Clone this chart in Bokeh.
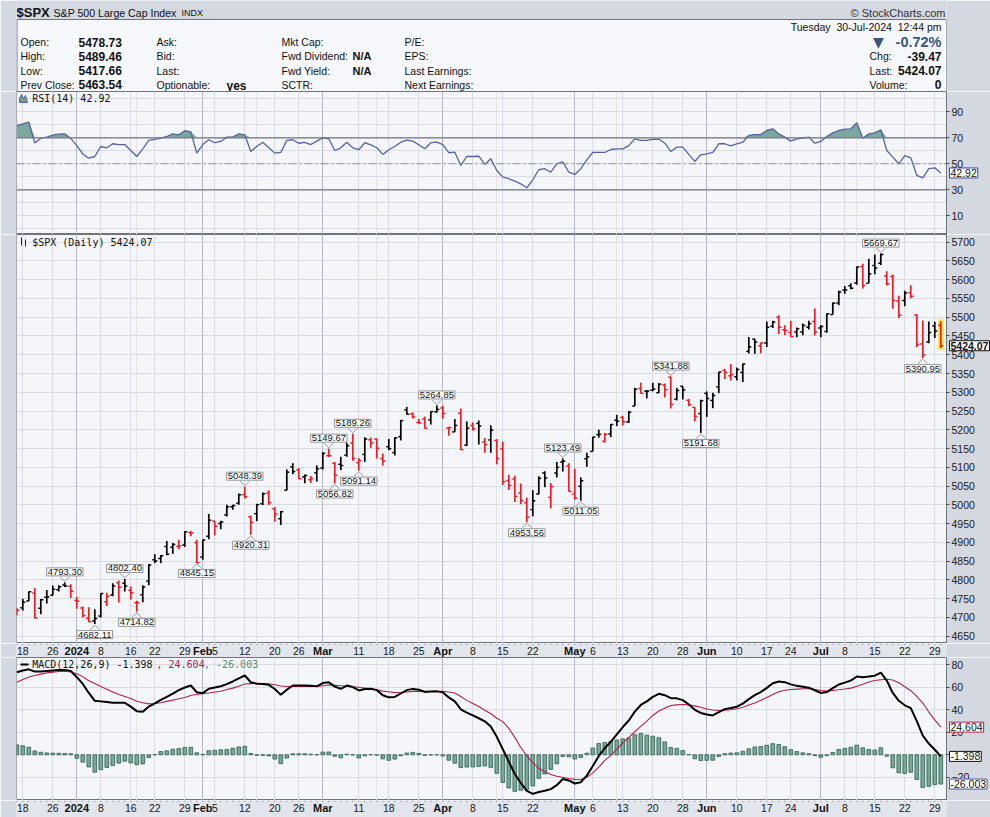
import numpy as np
from bokeh.plotting import figure
from bokeh.layouts import column
from bokeh.models import Range1d, FixedTicker, Span, Label, Grid, ColumnDataSource
from bokeh.core.properties import value
from bokeh.embed import file_html
from bokeh.resources import INLINE

# ---------------- data ----------------
dates = [
 "2023-12-15","2023-12-18","2023-12-19","2023-12-20","2023-12-21","2023-12-22","2023-12-26","2023-12-27","2023-12-28","2023-12-29",
 "2024-01-02","2024-01-03","2024-01-04","2024-01-05","2024-01-08","2024-01-09","2024-01-10","2024-01-11","2024-01-12","2024-01-16",
 "2024-01-17","2024-01-18","2024-01-19","2024-01-22","2024-01-23","2024-01-24","2024-01-25","2024-01-26","2024-01-29","2024-01-30","2024-01-31",
 "2024-02-01","2024-02-02","2024-02-05","2024-02-06","2024-02-07","2024-02-08","2024-02-09","2024-02-12","2024-02-13","2024-02-14",
 "2024-02-15","2024-02-16","2024-02-20","2024-02-21","2024-02-22","2024-02-23","2024-02-26","2024-02-27","2024-02-28","2024-02-29",
 "2024-03-01","2024-03-04","2024-03-05","2024-03-06","2024-03-07","2024-03-08","2024-03-11","2024-03-12","2024-03-13","2024-03-14",
 "2024-03-15","2024-03-18","2024-03-19","2024-03-20","2024-03-21","2024-03-22","2024-03-25","2024-03-26","2024-03-27","2024-03-28",
 "2024-04-01","2024-04-02","2024-04-03","2024-04-04","2024-04-05","2024-04-08","2024-04-09","2024-04-10","2024-04-11","2024-04-12",
 "2024-04-15","2024-04-16","2024-04-17","2024-04-18","2024-04-19","2024-04-22","2024-04-23","2024-04-24","2024-04-25","2024-04-26","2024-04-29","2024-04-30",
 "2024-05-01","2024-05-02","2024-05-03","2024-05-06","2024-05-07","2024-05-08","2024-05-09","2024-05-10","2024-05-13","2024-05-14",
 "2024-05-15","2024-05-16","2024-05-17","2024-05-20","2024-05-21","2024-05-22","2024-05-23","2024-05-24","2024-05-28","2024-05-29","2024-05-30","2024-05-31",
 "2024-06-03","2024-06-04","2024-06-05","2024-06-06","2024-06-07","2024-06-10","2024-06-11","2024-06-12","2024-06-13","2024-06-14",
 "2024-06-17","2024-06-18","2024-06-20","2024-06-21","2024-06-24","2024-06-25","2024-06-26","2024-06-27","2024-06-28",
 "2024-07-01","2024-07-02","2024-07-03","2024-07-05","2024-07-08","2024-07-09","2024-07-10","2024-07-11","2024-07-12","2024-07-15",
 "2024-07-16","2024-07-17","2024-07-18","2024-07-19","2024-07-22","2024-07-23","2024-07-24","2024-07-25","2024-07-26","2024-07-29","2024-07-30",
]

prev_close_before = 4719.55

opens = [
 4714.2, 4725.6, 4743.7, 4764.7, 4724.3, 4753.9, 4758.9, 4773.5, 4786.4, 4782.9,
 4745.2, 4725.1, 4697.4, 4690.6, 4703.7, 4741.9, 4759.9, 4792.1, 4791.2, 4772.4, 4739.1, 4760.1, 4796.3, 4853.4, 4856.8, 4888.6, 4886.7, 4888.9, 4893.0, 4925.9, 4899.2,
 4861.1, 4916.1, 4957.2, 4950.2, 4973.1, 4995.2, 5004.2, 5026.8, 4967.9, 4976.4, 5003.1, 5031.1, 4989.3, 4963.0, 5038.8, 5100.9, 5093.0, 5074.6, 5067.2, 5085.4,
 5098.5, 5131.0, 5110.5, 5108.0, 5132.4, 5164.5, 5112.0, 5134.3, 5173.5, 5175.1, 5123.3, 5154.8, 5139.1, 5181.7, 5253.4, 5242.5, 5219.5, 5228.9, 5226.3, 5248.0,
 5258.0, 5204.3, 5194.4, 5244.1, 5159.0, 5211.4, 5217.0, 5167.9, 5173.0, 5171.5, 5149.7, 5064.6, 5069.0, 5031.5, 5005.4, 4987.3, 5028.9, 5084.9, 5019.9, 5084.7, 5114.1, 5103.8,
 5029.0, 5049.3, 5122.8, 5142.4, 5187.2, 5169.0, 5189.0, 5225.5, 5233.1, 5221.1, 5263.3, 5310.1, 5303.1, 5305.4, 5298.7, 5319.3, 5340.3, 5281.5, 5315.9, 5278.7, 5259.8, 5243.2,
 5297.2, 5278.2, 5314.5, 5357.8, 5343.8, 5341.2, 5353.0, 5409.1, 5441.9, 5424.1, 5431.1, 5476.2, 5500.0, 5466.8, 5459.6, 5460.7, 5460.7, 5473.6, 5488.5,
 5471.1, 5461.8, 5507.4, 5537.9, 5572.8, 5584.2, 5591.3, 5635.2, 5590.8, 5638.2, 5644.1, 5610.1, 5608.6, 5543.4, 5544.5, 5565.3, 5505.8, 5428.7, 5433.7, 5476.6, 5478.73,
]
highs = [
 4725.6, 4749.5, 4768.7, 4778.0, 4748.7, 4772.9, 4784.7, 4785.4, 4793.3, 4788.4,
 4754.3, 4729.3, 4726.8, 4721.5, 4764.5, 4765.5, 4790.8, 4798.5, 4802.4, 4782.3, 4744.2, 4785.8, 4842.1, 4868.4, 4866.5, 4903.7, 4898.2, 4906.7, 4929.3, 4931.1, 4906.8,
 4907.0, 4975.3, 4957.2, 4957.8, 4999.9, 5000.4, 5030.1, 5048.4, 4971.3, 5002.5, 5032.7, 5038.7, 4993.7, 4983.2, 5094.4, 5111.1, 5097.7, 5080.7, 5077.4, 5105.0,
 5140.3, 5149.7, 5114.5, 5128.0, 5165.6, 5189.3, 5124.7, 5179.9, 5179.1, 5176.9, 5136.9, 5175.6, 5180.3, 5226.2, 5261.1, 5246.1, 5229.1, 5235.2, 5249.3, 5264.9,
 5264.0, 5208.3, 5228.8, 5256.6, 5222.2, 5219.6, 5224.8, 5178.4, 5211.8, 5175.0, 5168.4, 5079.8, 5078.0, 5056.7, 5019.0, 5038.8, 5076.1, 5089.5, 5057.8, 5114.6, 5123.5, 5110.8,
 5096.1, 5073.2, 5139.1, 5181.0, 5200.2, 5192.0, 5215.3, 5239.7, 5237.3, 5250.4, 5311.8, 5325.5, 5305.5, 5325.3, 5324.3, 5323.2, 5341.9, 5311.7, 5315.9, 5282.3, 5260.2, 5280.3,
 5302.1, 5298.8, 5354.2, 5362.4, 5375.1, 5365.8, 5376.0, 5447.3, 5441.9, 5432.4, 5488.5, 5490.4, 5505.5, 5478.3, 5490.7, 5472.9, 5483.1, 5490.8, 5523.6,
 5479.6, 5509.7, 5539.3, 5570.3, 5583.1, 5590.8, 5635.4, 5642.5, 5655.6, 5666.9, 5669.67, 5622.5, 5614.1, 5557.5, 5570.4, 5585.3, 5508.0, 5491.6, 5488.3, 5487.7, 5489.46,
]
lows = [
 4704.9, 4718.1, 4743.7, 4697.8, 4708.4, 4736.8, 4758.5, 4768.9, 4781.0, 4752.0,
 4722.7, 4699.7, 4687.5, 4682.11, 4699.8, 4730.4, 4756.2, 4739.6, 4769.0, 4747.1, 4714.82, 4740.6, 4785.9, 4844.1, 4844.4, 4865.9, 4869.3, 4881.5, 4887.4, 4916.3, 4845.15,
 4853.5, 4908.0, 4918.1, 4934.9, 4969.1, 4987.1, 5000.3, 5016.8, 4920.31, 4956.5, 4999.4, 4999.5, 4955.0, 4946.0, 5038.8, 5081.5, 5068.9, 5057.3, 5058.4, 5061.9,
 5094.2, 5127.2, 5056.82, 5092.2, 5128.2, 5117.5, 5091.14, 5114.5, 5151.9, 5123.3, 5104.4, 5145.5, 5131.6, 5171.6, 5240.7, 5229.9, 5216.1, 5203.4, 5213.9, 5245.8,
 5229.2, 5184.1, 5194.4, 5146.1, 5157.2, 5197.4, 5160.8, 5138.7, 5138.8, 5107.9, 5052.5, 5039.8, 5007.3, 5001.9, 4953.56, 4969.4, 5028.0, 5047.0, 4990.6, 5073.1, 5088.7, 5035.3,
 5013.5, 5011.05, 5101.2, 5142.4, 5179.0, 5165.9, 5180.4, 5209.7, 5211.2, 5218.0, 5263.3, 5296.2, 5283.6, 5302.4, 5297.9, 5286.0, 5256.9, 5278.4, 5280.9, 5262.7, 5222.1, 5191.68,
 5234.3, 5257.6, 5297.6, 5335.4, 5331.3, 5331.5, 5327.3, 5403.4, 5402.5, 5403.8, 5420.4, 5471.3, 5455.6, 5452.0, 5447.6, 5446.6, 5451.9, 5467.5, 5451.1,
 5446.5, 5458.4, 5507.4, 5531.6, 5562.5, 5574.6, 5586.4, 5576.5, 5590.4, 5614.8, 5639.0, 5584.8, 5522.8, 5497.0, 5529.0, 5550.9, 5420.0, 5390.95, 5430.7, 5444.4, 5417.66,
]
closes = [
 4719.19, 4740.56, 4768.37, 4698.35, 4746.75, 4754.63, 4774.75, 4781.58, 4783.35, 4769.83,
 4742.83, 4704.81, 4688.68, 4697.24, 4763.54, 4756.50, 4783.45, 4780.24, 4783.83, 4765.98, 4739.21, 4780.94, 4839.81, 4850.43, 4864.60, 4868.55, 4894.16, 4890.97, 4927.93, 4924.97, 4845.65,
 4906.19, 4958.61, 4942.81, 4954.23, 4995.06, 4997.91, 5026.61, 5021.84, 4953.17, 5000.62, 5029.73, 5005.57, 4975.51, 4981.80, 5087.03, 5088.80, 5069.53, 5078.18, 5069.76, 5096.27,
 5137.08, 5130.95, 5078.65, 5104.76, 5157.36, 5123.69, 5117.94, 5175.27, 5165.31, 5150.48, 5117.09, 5149.42, 5178.51, 5224.62, 5241.53, 5234.18, 5218.19, 5203.58, 5248.49, 5254.35,
 5243.77, 5205.81, 5211.49, 5147.21, 5204.34, 5202.39, 5209.91, 5160.64, 5199.06, 5123.41, 5061.82, 5051.41, 5022.21, 5011.12, 4967.23, 5010.60, 5070.55, 5071.63, 5048.42, 5099.96, 5116.17, 5035.69,
 5018.39, 5064.20, 5127.79, 5180.74, 5187.70, 5187.67, 5214.08, 5222.68, 5221.42, 5246.68, 5308.15, 5297.10, 5303.27, 5308.13, 5321.41, 5307.01, 5267.84, 5304.72, 5306.04, 5266.95, 5235.48, 5277.51,
 5283.40, 5291.34, 5354.03, 5352.96, 5346.99, 5360.79, 5375.32, 5421.03, 5433.74, 5431.60, 5473.23, 5487.03, 5473.17, 5464.62, 5447.87, 5469.30, 5477.90, 5482.87, 5460.48,
 5475.09, 5509.01, 5537.02, 5567.19, 5572.85, 5576.98, 5633.91, 5584.54, 5615.35, 5631.22, 5667.20, 5588.27, 5544.59, 5505.00, 5564.41, 5555.74, 5427.13, 5399.22, 5459.10, 5463.54, 5424.07,
]

rsi = [
 79.5, 80.7, 82.0, 66.0, 69.7, 70.5, 72.0, 72.8, 73.0, 69.5,
 64.0, 57.5, 54.3, 55.6, 63.3, 62.3, 65.4, 64.8, 64.8, 60.2,
 55.6, 61.5, 68.0, 68.7, 69.7, 71.0, 73.0, 72.3, 75.4, 74.6,
 58.2, 64.8, 68.5, 66.2, 67.2, 70.5, 70.5, 73.0, 72.3, 59.5,
 63.3, 66.6, 62.3, 58.2, 58.7, 68.0, 68.5, 65.8, 66.4, 64.8,
 67.4, 70.0, 69.2, 60.2, 62.3, 66.6, 62.3, 60.8, 66.2, 64.6,
 62.3, 57.2, 60.8, 63.3, 66.6, 68.2, 67.4, 64.6, 61.5, 66.2,
 66.6, 64.8, 58.5, 58.9, 48.7, 55.6, 55.6, 55.8, 49.5, 53.8,
 44.8, 39.7, 38.5, 36.6, 34.6, 31.5, 37.7, 45.4, 46.2, 43.5,
 50.0, 51.5, 43.5, 41.8, 46.2, 53.0, 58.7, 58.7, 58.7, 61.0,
 61.5, 61.5, 64.0, 69.2, 68.0, 68.0, 68.7, 69.0, 65.8, 59.5,
 62.8, 62.8, 57.2, 51.8, 56.9, 57.7, 58.7, 65.4, 65.4, 63.8,
 65.4, 66.6, 71.8, 72.5, 72.5, 75.6, 76.9, 73.0, 70.5, 67.4,
 69.2, 69.7, 70.5, 65.8, 67.2, 71.0, 73.8, 75.6, 76.6, 76.9,
 81.5, 69.7, 73.0, 73.8, 76.2, 60.2, 55.1, 50.0, 56.2, 54.6,
 41.0, 39.2, 46.2, 46.9, 42.92,
]
macd = [
 73.4, 75.0, 76.0, 74.0, 74.0, 74.5, 75.0, 75.5, 75.5, 74.5,
 69.0, 63.0, 55.0, 48.0, 47.5, 47.0, 46.3, 46.2, 46.2, 42.8,
 38.8, 38.2, 42.9, 45.7, 48.9, 51.5, 54.3, 57.5, 59.8, 61.6,
 55.6, 54.8, 58.7, 59.8, 61.0, 62.8, 65.2, 68.0, 70.5, 64.5,
 63.2, 63.0, 62.2, 58.5, 53.3, 57.8, 61.6, 61.6, 61.6, 61.3,
 60.9, 63.8, 64.5, 60.6, 58.7, 61.6, 60.2, 57.2, 58.5, 58.7,
 57.5, 53.0, 51.1, 51.5, 54.5, 57.5, 58.6, 57.8, 55.9, 56.2,
 56.4, 55.5, 51.0, 47.5, 40.5, 37.5, 35.0, 32.5, 29.8, 25.2,
 16.0, 5.0, -6.0, -17.0, -25.0, -32.0, -34.7, -33.0, -32.0, -30.5,
 -27.0, -21.5, -22.8, -25.5, -24.3, -18.5, -10.0, -1.0, 6.0, 11.5,
 18.2, 24.7, 30.5, 38.4, 44.3, 47.5, 51.5, 54.2, 53.0, 50.3,
 50.2, 48.6, 44.7, 40.0, 37.2, 35.9, 35.0, 37.9, 40.6, 41.6,
 42.8, 45.5, 49.5, 53.0, 55.8, 59.5, 63.6, 65.2, 64.6, 62.6,
 61.3, 60.5, 59.7, 57.4, 55.0, 55.8, 59.3, 62.5, 64.2, 66.0,
 69.6, 69.0, 69.6, 70.3, 73.0, 66.0, 55.0, 48.0, 44.0, 41.5,
 30.0, 17.0, 10.0, 4.5, -1.398,
]
signal = [
 64.5, 67.0, 69.2, 70.5, 71.7, 72.8, 73.5, 74.1, 74.3, 73.6,
 72.1, 69.5, 65.8, 63.4, 60.8, 58.3, 55.9, 53.6, 51.9, 50.0,
 47.6, 46.3, 45.3, 45.6, 46.3, 47.5, 48.6, 49.8, 51.0, 52.8,
 53.8, 54.4, 55.0, 55.8, 56.5, 58.0, 59.3, 61.0, 62.9, 63.3,
 63.6, 63.4, 63.2, 62.3, 61.2, 60.7, 60.7, 60.7, 60.7, 60.7,
 60.7, 61.4, 62.0, 61.8, 61.4, 61.0, 60.4, 60.0, 59.4, 58.6,
 57.8, 56.6, 56.0, 55.3, 55.4, 55.9, 56.4, 56.5, 56.4, 56.3,
 56.4, 56.5, 55.8, 55.0, 51.8, 48.4, 45.7, 42.9, 39.7, 36.5,
 32.5, 29.5, 23.5, 15.5, 6.5, -1.0, -7.0, -12.0, -15.0, -17.5,
 -19.0, -20.0, -21.0, -21.8, -22.0, -20.0, -16.0, -11.0, -5.0, -0.5,
 5.0, 10.5, 15.5, 20.5, 25.3, 30.0, 35.0, 39.0, 41.5, 43.8,
 44.4, 44.7, 44.5, 43.5, 42.3, 40.8, 39.8, 39.4, 39.6, 40.0,
 41.0, 42.3, 44.2, 46.0, 48.4, 51.0, 53.7, 56.0, 57.4, 58.0,
 58.4, 58.7, 58.7, 58.0, 57.2, 56.6, 57.2, 57.8, 58.5, 59.3,
 61.0, 62.8, 64.8, 66.0, 66.7, 67.2, 66.5, 64.0, 60.5, 57.0,
 52.0, 46.0, 38.0, 31.0, 24.604,
]
hist = [
 8.9, 8.0, 6.8, 3.5, 2.3, 1.7, 1.5, 1.4, 1.2, 0.9,
 -3.1, -6.5, -10.8, -15.4, -13.3, -11.3, -9.6, -7.4, -5.7, -7.2,
 -8.8, -8.1, -2.4, 0.1, 2.9, 3.6, 5.0, 5.6, 6.5, 6.7,
 1.8, 0.4, 3.7, 4.0, 4.5, 4.8, 5.9, 7.0, 7.6, 1.2,
 -0.4, -0.4, -1.0, -3.8, -7.9, -2.9, 0.9, 0.9, 0.9, 0.6,
 0.2, 2.4, 2.5, -1.2, -2.7, 0.6, -0.2, -2.8, -0.9, 0.1,
 -0.3, -3.6, -4.9, -3.8, -0.9, 1.6, 2.2, 1.3, -0.5, -0.1,
 0.0, -1.0, -4.8, -7.5, -11.3, -10.9, -10.7, -10.4, -9.9, -11.3,
 -16.5, -24.5, -29.5, -32.5, -31.5, -31.0, -27.7, -21.0, -17.0, -13.0,
 -8.0, -1.5, -1.8, -3.7, -2.3, 1.5, 6.0, 10.0, 11.0, 12.0,
 13.2, 14.2, 15.0, 17.9, 19.0, 17.5, 16.5, 15.2, 11.5, 6.5,
 5.8, 3.9, 0.2, -3.5, -5.1, -4.9, -4.8, -1.5, 1.0, 1.6,
 1.8, 3.2, 5.3, 7.0, 7.4, 8.5, 9.9, 9.2, 7.2, 4.6,
 2.9, 1.8, 1.0, -0.6, -2.2, -0.8, 2.1, 4.7, 5.7, 6.7,
 8.6, 6.2, 4.8, 4.3, 6.3, -1.2, -11.5, -16.0, -16.5, -15.5,
 -22.0, -29.0, -28.0, -26.5, -26.003,
]

last_rsi, last_macd, last_signal, last_hist = 42.92, -1.398, 24.604, -26.003

tick_dates = ["2023-12-18","2023-12-26","2024-01-02","2024-01-08","2024-01-16","2024-01-22","2024-01-29",
 "2024-02-01","2024-02-05","2024-02-12","2024-02-20","2024-02-26","2024-03-01","2024-03-11","2024-03-18",
 "2024-03-25","2024-04-01","2024-04-08","2024-04-15","2024-04-22","2024-05-01","2024-05-06","2024-05-13",
 "2024-05-20","2024-05-28","2024-06-03","2024-06-10","2024-06-17","2024-06-24","2024-07-01","2024-07-08",
 "2024-07-15","2024-07-22","2024-07-29"]
tick_labels = ["18","26","2024","8","16","22","29","Feb","5","12","20","26","Mar","11","18","25","Apr","8",
 "15","22","May","6","13","20","28","Jun","10","17","24","Jul","8","15","22","29"]
month_ticks = ["2024","Feb","Mar","Apr","May","Jun","Jul"]

ann_dates = ["2023-12-28","2024-01-05","2024-01-12","2024-01-17","2024-01-31","2024-02-12","2024-02-13",
 "2024-03-04","2024-03-05","2024-03-08","2024-03-11","2024-03-28","2024-04-19","2024-04-29","2024-05-02",
 "2024-05-23","2024-05-31","2024-07-16","2024-07-25"]
ann_values = [4793.30, 4682.11, 4802.40, 4714.82, 4845.15, 5048.39, 4920.31, 5149.67, 5056.82, 5189.26,
 5091.14, 5264.85, 4953.56, 5123.49, 5011.05, 5341.88, 5191.68, 5669.67, 5390.95]
ann_side = ["high","low","high","low","low","high","low","high","low","high","low","high","low","high",
 "low","high","low","high","low"]

price_ticks = list(range(4650, 5701, 50))
rsi_label_ticks = [10, 30, 50, 70, 90]
rsi_grid_ticks = list(range(0, 101, 10))
macd_ticks = [80, 60, 40, 20, 0, -20]

# ---------------- style ----------------
LB, RB = 16, 44
FW = 930
PAGE = "#d3d8e1"
FRAME = "#f5f6f9"
GRID_C = "#d9dce3"
GRID_M = "#b5b9c3"
OUTLINE = "#6e7380"
UP = "#000000"
DOWN = "#ec1c24"
FONT = "Liberation Sans"
MONO = "DejaVu Sans Mono"

n = len(dates)
idx = np.arange(n)
xr = Range1d(-0.05, n - 0.05)
tick_pos = [dates.index(d) for d in tick_dates]
month_pos = [p for p, t in zip(tick_pos, tick_labels) if t in month_ticks]
week_pos = [p for p, t in zip(tick_pos, tick_labels) if t not in month_ticks]


def px2x(px):
    return xr.start + (px - LB) / 6.0


def panel(h, y0, y1):
    p = figure(frame_width=FW, frame_height=h, x_range=xr, y_range=Range1d(y0, y1), output_backend="svg",
               toolbar_location=None, x_axis_location=None, y_axis_location="right",
               min_border_left=LB, min_border_right=RB, min_border_top=0, min_border_bottom=0)
    p.background_fill_color = FRAME
    p.border_fill_color = PAGE
    p.outline_line_color = OUTLINE
    p.add_layout(Grid(dimension=0, ticker=FixedTicker(ticks=week_pos), grid_line_color=GRID_C))
    p.add_layout(Grid(dimension=0, ticker=FixedTicker(ticks=month_pos), grid_line_color=GRID_M))
    ax = p.yaxis[0]
    ax.axis_line_color = OUTLINE
    ax.major_tick_out = 3
    ax.major_tick_in = 0
    ax.minor_tick_out = 0
    ax.minor_tick_in = 0
    ax.major_tick_line_color = "#444444"
    ax.major_label_text_font = FONT
    ax.major_label_text_font_size = "10.5px"
    ax.major_label_text_color = "#1a1a1a"
    ax.major_label_standoff = 2
    p.ygrid.grid_line_color = GRID_C
    return p


def right_box(p, y, text, border, bold=False):
    p.add_layout(Label(x=xr.end, y=y, x_offset=3, text=text, text_align="left", text_baseline="middle",
                       text_font=FONT, text_font_size="10.5px", text_color="#111111",
                       text_font_style="bold" if bold else "normal",
                       background_fill_color="white", border_line_color=border, padding=1), "right")


def legend(p, x_px, y, text, color="#111111"):
    p.add_layout(Label(x=px2x(x_px), y=y, text=text, text_align="left", text_baseline="middle",
                       text_font=MONO, text_font_size="10px", text_color=color))


# ---------------- header ----------------
hdr = figure(frame_width=FW, frame_height=91, x_range=Range1d(LB, LB + FW), y_range=Range1d(91, 0),
             output_backend="svg", toolbar_location=None, x_axis_location=None, y_axis_location=None,
             min_border_left=LB, min_border_right=RB, min_border_top=0, min_border_bottom=0)
hdr.background_fill_color = PAGE
hdr.border_fill_color = PAGE
hdr.outline_line_color = None
hdr.xgrid.visible = False
hdr.ygrid.visible = False
hdr.quad(left=16.5, right=946, top=19, bottom=92, fill_color="#f7f8fb", line_color=OUTLINE)


def hl(x, y, text, size="10.5px", bold=False, color="#111111", align="left", font=FONT):
    hdr.add_layout(Label(x=x, y=y, text=text, text_align=align, text_baseline="middle",
                         text_font=font, text_font_size=size, text_color=color,
                         text_font_style="bold" if bold else "normal"))


hl(16, 12, "$SPX", size="13px", bold=True)
hl(53, 12, "S&P 500 Large Cap Index", size="10.6px")
hl(181, 12.5, "INDX", size="9px")
hl(945, 12, "\u00a9 StockCharts.com", size="11px", color="#333333", align="right")

rows = [41.5, 55.5, 70, 84]
for y, lab in zip(rows, ["Open:", "High:", "Low:", "Prev Close:"]):
    hl(20, y, lab)
for y, v in zip(rows, ["5478.73", "5489.46", "5417.66", "5463.54"]):
    hl(78, y, v, size="12px", bold=True)
for y, lab in zip(rows, ["Ask:", "Bid:", "Last:", "Optionable:"]):
    hl(156, y, lab)
hl(226, rows[3] + 1, "yes", size="12px", bold=True)
for y, lab in zip(rows, ["Mkt Cap:", "Fwd Dividend:", "Fwd Yield:", "SCTR:"]):
    hl(281, y, lab)
hl(352, rows[1], "N/A", size="11px", bold=True)
hl(352, rows[2], "N/A", size="11px", bold=True)
for y, lab in zip(rows, ["P/E:", "EPS:", "Last Earnings:", "Next Earnings:"]):
    hl(404, y, lab)
hl(941, 26, "Tuesday\u00a0\u00a030-Jul-2024\u00a0\u00a012:44 pm", align="right")
hl(878, 41.5, "\u25bc", size="14px", color="#3a5580", align="center", font="DejaVu Sans")
hl(941, 41.5, "-0.72%", size="14.5px", bold=True, color="#3a5580", align="right")
hl(869, 55.5, "Chg:")
hl(941, 55.5, "-39.47", size="12px", bold=True, align="right")
hl(869, 70, "Last:")
hl(941, 70, "5424.07", size="12px", bold=True, align="right")
hl(869, 84, "Volume:")
hl(941, 84, "0", size="12px", bold=True, align="right")

# ---------------- RSI ----------------
RSI_LO, RSI_HI = -4.4, 105.6
RPX = (RSI_HI - RSI_LO) / 143.0
pr = panel(143, RSI_LO, RSI_HI)
pr.yaxis.ticker = FixedTicker(ticks=rsi_label_ticks)
pr.ygrid.ticker = FixedTicker(ticks=rsi_grid_ticks)
pr.varea(x=idx, y1=70, y2=np.maximum(np.array(rsi), 70), fill_color="#6e9f91", fill_alpha=0.9)
for lvl in (70, 30):
    pr.add_layout(Span(location=lvl, dimension="width", line_color="#70747e", line_width=1.2))
pr.add_layout(Span(location=50, dimension="width", line_color="#8b8f99", line_width=1, line_dash="8 3 2 3"))
pr.line(idx, rsi, line_color="#5662a3", line_width=1.3)
ix = [px2x(v) for v in (19, 19, 21, 23, 25, 27)]
iy = [RSI_HI - v * RPX for v in (11, 7, 3, 7, 4, 11)]
pr.patch(ix, iy, fill_color="#6e9f91", line_color="#5662a3", line_width=1)
legend(pr, 31.7, RSI_HI - 7.3 * RPX, "RSI(14) 42.92")
right_box(pr, last_rsi, "42.92", "#3c4a8e")

# ---------------- price ----------------
P_LO, P_HI = 4630.4, 5720.5
PPX = (P_HI - P_LO) / 409.0
pp = panel(409, P_LO, P_HI)
pp.yaxis.ticker = FixedTicker(ticks=price_ticks)
prev = [prev_close_before] + closes[:-1]
cols = [UP if c >= pc else DOWN for c, pc in zip(closes, prev)]
src = ColumnDataSource(dict(x=idx, xl=idx - 0.42, xr=idx + 0.42, o=opens, h=highs, l=lows, c=closes, col=cols))
pp.quad(left=[n - 1 - 0.5], right=[n - 1 + 0.5], bottom=[lows[-1] - 2 * PPX], top=[highs[-1] + 2 * PPX],
        fill_color="#fbe94c", line_color=None)
pp.segment(x0="x", y0="l", x1="x", y1="h", line_color="col", line_width=1.7, source=src)
pp.segment(x0="xl", y0="o", x1="x", y1="o", line_color="col", line_width=1.5, source=src)
pp.segment(x0="x", y0="c", x1="xr", y1="c", line_color="col", line_width=1.5, source=src)

chev_x, chev_y = [], []
for d, v, s in zip(ann_dates, ann_values, ann_side):
    i = dates.index(d)
    sg = 1 if s == "high" else -1
    chev_x.append([i - 0.8, i, i + 0.8])
    chev_y.append([v + sg * 5.5 * PPX, v + sg * 1.0 * PPX, v + sg * 5.5 * PPX])
    pp.add_layout(Label(x=i, y=v + sg * 6.5 * PPX, text=f"{v:.2f}", text_align="center",
                        text_baseline="bottom" if s == "high" else "top",
                        text_font=FONT, text_font_size="9.5px", text_color="#111111",
                        background_fill_color="#ffffff", border_line_color="#8e939c", padding=1))
pp.multi_line(chev_x, chev_y, line_color="#9a9ea6", line_width=1)
for xp, a, b in ((21, 3, 11), (25, 5, 12)):
    pp.segment(x0=[px2x(xp)], y0=[P_HI - a * PPX], x1=[px2x(xp)], y1=[P_HI - b * PPX], line_color="#222222", line_width=1)
legend(pp, 31.7, P_HI - 7.7 * PPX, "$SPX (Daily) 5424.07")
right_box(pp, closes[-1], "5424.07", "#111111", bold=True)


# ---------------- x-axis bands ----------------
def band(h, ymid):
    b = figure(frame_width=FW, frame_height=h, x_range=xr, y_range=Range1d(h, 0), output_backend="svg",
               toolbar_location=None, x_axis_location=None, y_axis_location=None,
               min_border_left=LB, min_border_right=RB, min_border_top=0, min_border_bottom=0)
    b.background_fill_color = "#e2e5eb"
    b.border_fill_color = PAGE
    b.outline_line_color = None
    b.xgrid.visible = False
    b.ygrid.visible = False
    b.segment(x0=idx, y0=np.zeros(n), x1=idx, y1=np.full(n, 1.5), line_color="#8d929c", line_width=1)
    wl = [t for t in tick_labels if t not in month_ticks]
    ml = [t for t in tick_labels if t in month_ticks]
    b.text(x=week_pos, y=[ymid] * len(week_pos), text=wl, text_align="center", text_baseline="middle",
           text_font=value(FONT), text_font_size="10.5px", text_color="#1a1a1a")
    b.text(x=month_pos, y=[ymid] * len(month_pos), text=ml, text_align="center", text_baseline="middle",
           text_font=value(FONT), text_font_size="11px", text_font_style="bold", text_color="#111111")
    return b


b1 = band(14, 7.5)

# ---------------- MACD ----------------
M_LO, M_HI = -40.6, 86.5
MPX = (M_HI - M_LO) / 143.0
pm = panel(143, M_LO, M_HI)
pm.yaxis.ticker = FixedTicker(ticks=macd_ticks)
pm.vbar(x=idx, top=hist, bottom=0, width=0.62, fill_color="#77a797", line_color="#2f5d50", line_width=0.8)
pm.line(idx, signal, line_color="#b2204c", line_width=1.1)
pm.line(idx, macd, line_color="#000000", line_width=2)
pm.segment(x0=[px2x(20)], y0=[M_HI - 7 * MPX], x1=[px2x(28)], y1=[M_HI - 7 * MPX], line_color="#000000", line_width=2)
legend(pm, 31.7, M_HI - 7 * MPX, "MACD(12,26,9) -1.398")
legend(pm, 156, M_HI - 7 * MPX, ", 24.604", color="#b2204c")
legend(pm, 203.5, M_HI - 7 * MPX, ", -26.003", color="#4f8f7d")
right_box(pm, last_signal, "24.604", "#b2204c")
right_box(pm, last_macd, "-1.398", "#111111")
right_box(pm, last_hist, "-26.003", "#4a5a9c")

b2 = band(17, 7.5)

layout = column(hdr, pr, pp, b1, pm, b2, spacing=0)
open("out.html", "w").write(file_html(layout, INLINE))
